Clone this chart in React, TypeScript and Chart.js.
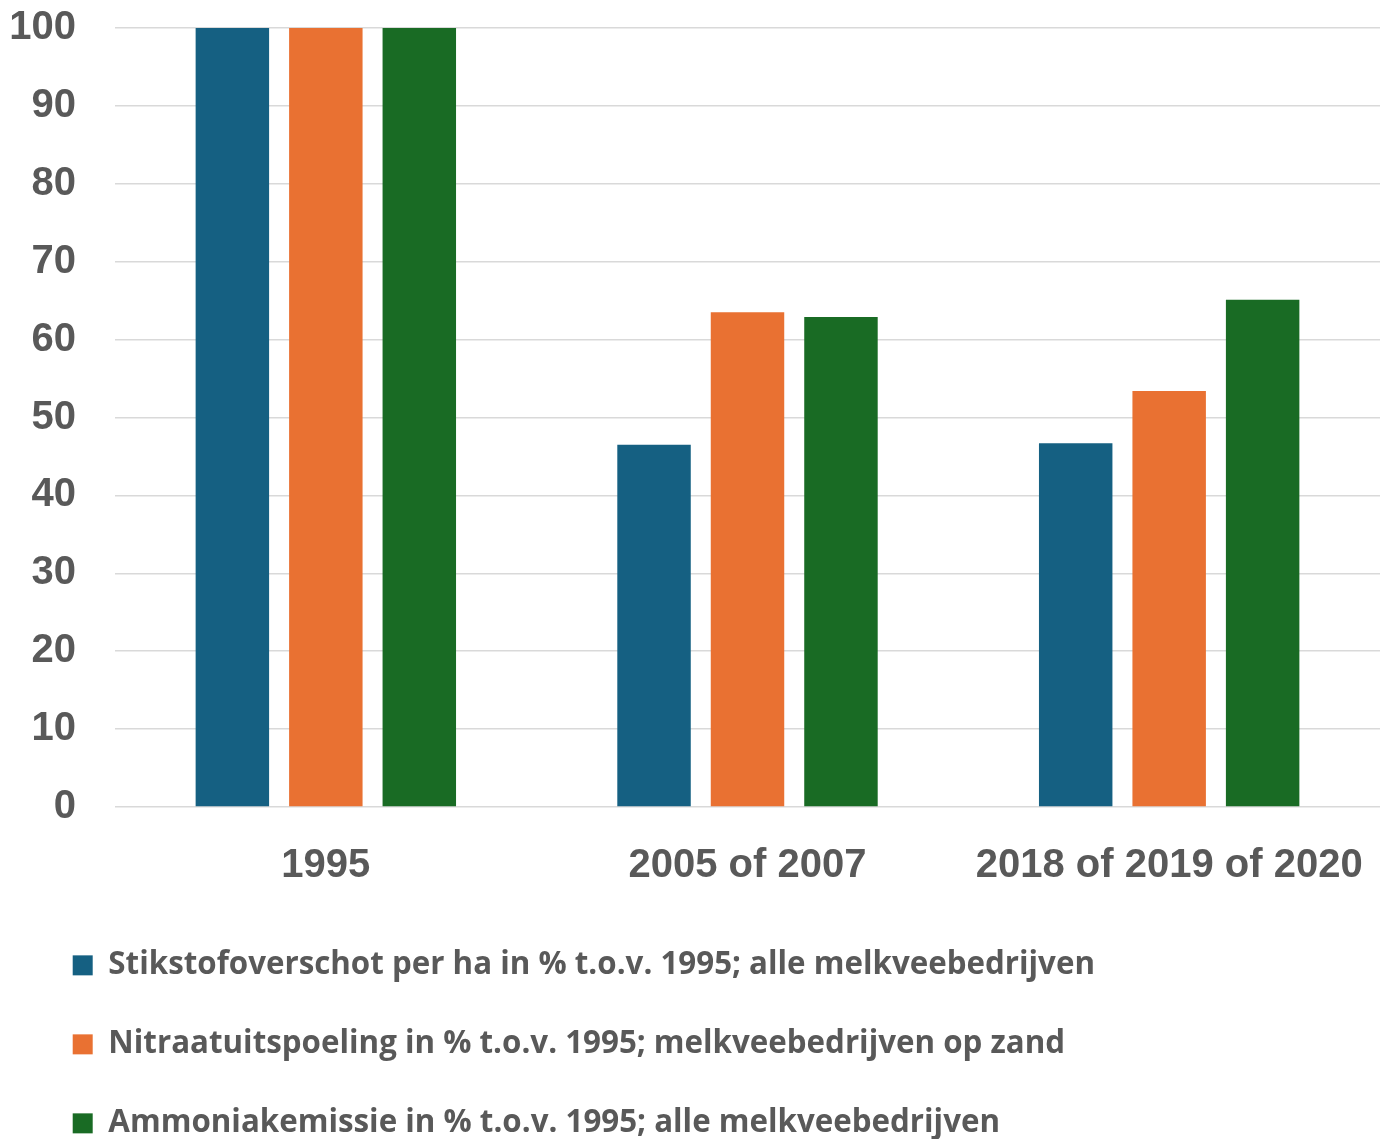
import React, { useEffect, useRef } from "react";
import { Chart, registerables } from "chart.js";

Chart.register(...registerables);

const categories = ["1995", "2005 of 2007", "2018 of 2019 of 2020"];
const seriesLabels = [
  "Stikstofoverschot per ha in % t.o.v. 1995; alle melkveebedrijven",
  "Nitraatuitspoeling in % t.o.v. 1995; melkveebedrijven op zand",
  "Ammoniakemissie in % t.o.v. 1995; alle melkveebedrijven",
];
const stikstof = [100, 46.5, 46.7];
const nitraat = [100, 63.5, 53.4];
const ammoniak = [100, 62.9, 65.1];
const seriesColors = ["#156082", "#E97132", "#196B24"];
const yTicks = [0, 10, 20, 30, 40, 50, 60, 70, 80, 90, 100];

const CANVAS_W = 1373;
const CANVAS_H = 1141;
const TEXT = "#595959";
const GRID = "#d9d9d9";

// Nudges the legend rows to the right of the canvas edge.
const legendShift = {
  id: "legendShift",
  afterLayout(chart: any) {
    if (chart.legend) {
      chart.legend.left += 17;
      chart.legend.right += 17;
    }
  },
};

export default function App() {
  const ref = useRef<HTMLCanvasElement | null>(null);

  useEffect(() => {
    document.body.style.overflow = "hidden";
    const canvas = ref.current;
    if (!canvas) return;
    const values = [stikstof, nitraat, ammoniak];
    const chart = new Chart(canvas, {
      type: "bar",
      data: {
        labels: categories,
        datasets: values.map((v, i) => ({
          label: seriesLabels[i],
          data: v,
          backgroundColor: seriesColors[i],
          borderWidth: 0,
          barPercentage: 0.786,
          categoryPercentage: 0.665,
        })),
      },
      plugins: [legendShift],
      options: {
        responsive: false,
        animation: false,
        devicePixelRatio: 1,
        layout: { padding: { top: 0, right: 1, left: 0, bottom: 0 } },
        plugins: {
          tooltip: { enabled: false },
          title: { display: false },
          legend: {
            display: true,
            position: "bottom",
            align: "start",
            labels: {
              boxWidth: 20,
              boxHeight: 20,
              padding: 47.7,
              color: TEXT,
              font: { family: "'Open Sans', sans-serif", size: 31.3, weight: "bold" },
            },
          },
        },
        scales: {
          x: {
            offset: true,
            grid: { display: false, drawTicks: false },
            border: { display: false },
            ticks: {
              padding: 35,
              color: TEXT,
              font: { family: "'Liberation Sans', Arial, sans-serif", size: 40, weight: "bold" },
            },
            afterFit(scale: any) {
              scale.height = 95;
              scale.paddingLeft = 0;
              scale.paddingRight = 0;
            },
          },
          y: {
            min: 0,
            max: 100,
            afterBuildTicks(scale: any) {
              scale.ticks = yTicks.map((v) => ({ value: v }));
            },
            grid: { color: GRID, lineWidth: 1.5, drawTicks: false },
            border: { display: false },
            ticks: {
              padding: 39,
              color: TEXT,
              font: { family: "'Liberation Sans', Arial, sans-serif", size: 40, weight: "bold" },
            },
            afterFit(scale: any) {
              scale.width = 107;
              scale.paddingTop = 20;
              scale.paddingBottom = 0;
            },
          },
        },
      },
    });
    return () => chart.destroy();
  }, []);

  return (
    <div style={{ width: CANVAS_W, height: CANVAS_H }}>
      <canvas ref={ref} width={CANVAS_W} height={CANVAS_H} />
    </div>
  );
}
